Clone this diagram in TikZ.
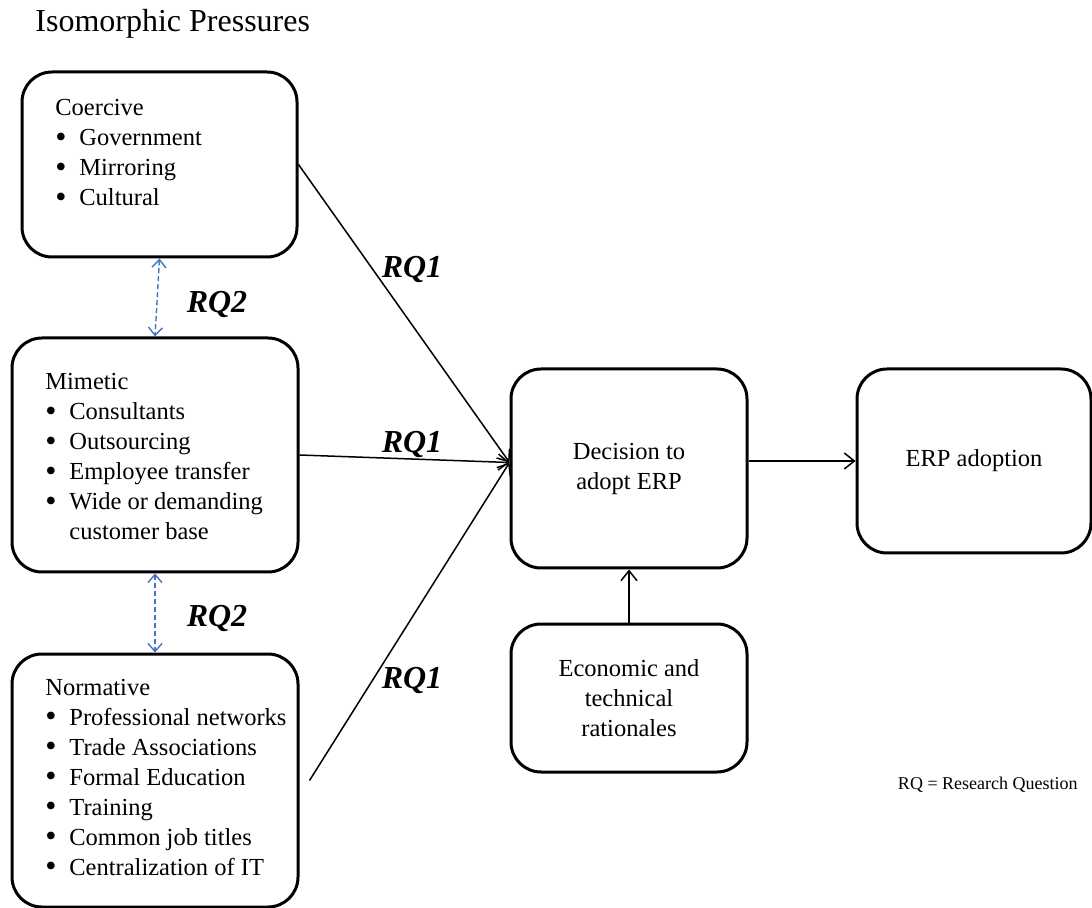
\documentclass[tikz,border=0pt]{standalone}
\usepackage{fontspec}
\usepackage{graphicx}
\setmainfont{Liberation Serif}
\usetikzlibrary{arrows.meta}
\definecolor{rqblue}{RGB}{68,114,196}
\def\bul{\makebox[12pt][l]{\raisebox{-0.15ex}{\scalebox{1.3}{\textbullet}}}}
\tikzset{
	box/.style={draw, line width=1.5pt, rounded corners=15pt, inner sep=0pt, align=center, font=\fontsize{12.25}{15}\selectfont},
	listtext/.style={inner sep=0pt, align=left, anchor=base west, font=\fontsize{12.25}{15}\selectfont},
	rqarrow/.style={line width=0.75pt, -{Straight Barb[length=5pt,width=8pt]}},
	rqlink/.style={rqblue, line width=0.7pt, dash pattern=on 2.5pt off 1.5pt, {Straight Barb[length=4pt,width=7pt]}-{Straight Barb[length=4pt,width=7pt]}},
	rqlabel/.style={font=\fontsize{16}{18}\selectfont\bfseries\itshape, inner sep=0pt}
}

\begin{document}
\begin{tikzpicture}[x=0.5pt, y=-0.5pt]
			%%%%% START %%%%%
			\useasboundingbox (0, 0) rectangle (1092, 908);
			
			\node[anchor=base west, inner sep=0pt, font=\fontsize{16}{18}\selectfont] (title) at (35, 32) {Isomorphic Pressures};
			
			% pressures
			\node[box, minimum width=137.5pt, minimum height=92.5pt] (coercive) at (159.5, 164.5) {};
			\node[box, minimum width=143pt, minimum height=117pt] (mimetic) at (155, 455) {};
			\node[box, minimum width=143pt, minimum height=126.5pt] (normative) at (155, 780.5) {};
			
			% base = last line
			\node[listtext] (coercivetxt) at (55, 206) {Coercive\\\bul Government\\\bul Mirroring\\\bul Cultural};
			\node[listtext] (mimetictxt) at (45, 540) {Mimetic\\\bul Consultants\\\bul Outsourcing\\\bul Employee transfer\\\bul Wide or demanding\\\hspace{12pt}customer base};
			\node[listtext] (normativetxt) at (45, 875) {Normative\\\bul Professional networks\\\bul Trade Associations\\\bul Formal Education\\\bul Training\\\bul Common job titles\\\bul Centralization of IT};
			
			% decision side
			\node[box, minimum width=118pt, minimum height=99.5pt] (decision) at (629, 468.5) {Decision to\\adopt ERP};
			\node[box, minimum width=117pt, minimum height=92pt] (erp) at (974, 461) {ERP adoption};
			\node[box, minimum width=118pt, minimum height=74pt] (economic) at (629, 698) {Economic and\\technical\\rationales};
			
			% connectors
			\draw[rqarrow] (coercive.east) -- ([yshift=3pt]decision.west);
			\draw[rqarrow] (mimetic.east) -- ([yshift=3pt]decision.west);
			\draw[rqarrow] ([xshift=5pt]normative.east) -- ([yshift=3pt]decision.west);
			\draw[rqarrow] (decision.east |- erp.west) -- (erp.west);
			\draw[rqarrow] (economic.north) -- (decision.south);
			
			\draw[rqlink] (coercive.south) -- (mimetic.north);
			\draw[rqlink] (mimetic.south) -- (normative.north);
			
			\node[rqlabel] (rq1a) at (412, 270) {RQ1};
			\node[rqlabel] (rq1b) at (412, 445) {RQ1};
			\node[rqlabel] (rq1c) at (412, 680) {RQ1};
			\node[rqlabel] (rq2a) at (217, 305) {RQ2};
			\node[rqlabel] (rq2b) at (217, 618) {RQ2};
			
			\node[anchor=east, inner sep=0pt, font=\fontsize{9}{11}\selectfont] (note) at (1078, 785) {RQ = Research Question};
			%%%%% END %%%%%
\end{tikzpicture}
\end{document}
